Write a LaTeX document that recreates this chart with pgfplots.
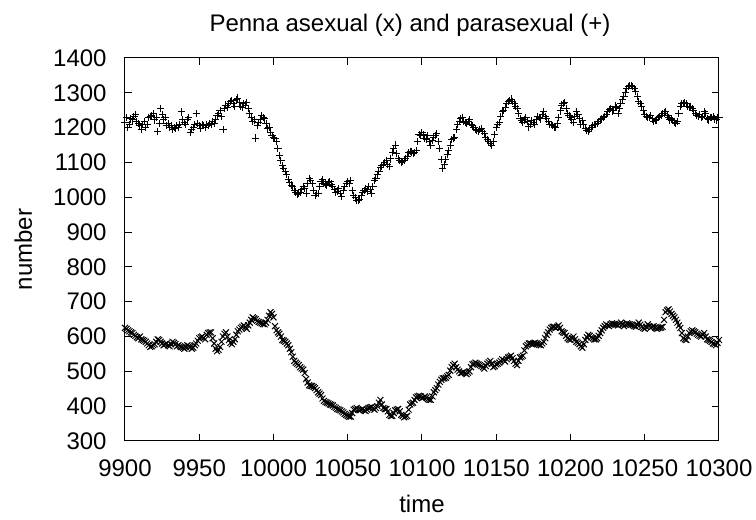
\documentclass[border=0pt]{standalone}
\usepackage{pgfplots}
\pgfplotsset{compat=1.18}
\usepackage{pgfplotstable}
\usepackage{fontspec}
\setmainfont{Liberation Sans}

\pgfplotstableread{
t v
9900 1215
9902 1200
9904 1225
9906 1232
9908 1218
9910 1205
9912 1210
9914 1200
9916 1228
9918 1235
9920 1222
9922 1190
9924 1255
9926 1222
9928 1205
9930 1200
9932 1195
9934 1198
9936 1200
9938 1245
9940 1215
9942 1222
9944 1185
9946 1200
9948 1240
9950 1205
9952 1210
9954 1200
9956 1205
9958 1208
9960 1212
9962 1235
9964 1250
9966 1195
9968 1265
9970 1270
9972 1278
9974 1262
9976 1285
9978 1260
9980 1268
9982 1272
9984 1240
9986 1218
9988 1170
9990 1215
9992 1235
9994 1225
9996 1198
9998 1185
10000 1172
10002 1160
10004 1120
10006 1090
10008 1075
10010 1050
10012 1035
10014 1020
10016 1008
10018 1015
10020 1030
10022 1012
10024 1055
10026 1040
10028 1005
10030 1010
10032 1045
10034 1040
10036 1035
10038 1045
10040 1030
10042 1015
10044 1025
10046 1002
10048 1030
10050 1045
10052 1048
10054 1005
10056 990
10058 995
10060 1015
10062 1025
10064 1030
10066 1010
10068 1048
10070 1065
10072 1085
10074 1095
10076 1105
10078 1088
10080 1130
10082 1150
10084 1112
10086 1100
10088 1105
10090 1118
10092 1132
10094 1125
10096 1135
10098 1180
10100 1185
10102 1170
10104 1178
10106 1148
10108 1172
10110 1182
10112 1140
10114 1082
10116 1108
10118 1135
10120 1165
10122 1172
10124 1210
10126 1225
10128 1218
10130 1212
10132 1222
10134 1205
10136 1195
10138 1190
10140 1198
10142 1182
10144 1165
10146 1155
10148 1160
10150 1200
10152 1215
10154 1245
10156 1258
10158 1275
10160 1282
10162 1268
10164 1255
10166 1225
10168 1215
10170 1230
10172 1202
10174 1220
10176 1210
10178 1232
10180 1225
10182 1245
10184 1225
10186 1210
10188 1205
10190 1200
10192 1228
10194 1265
10196 1272
10198 1240
10200 1230
10202 1215
10204 1245
10206 1225
10208 1220
10210 1198
10212 1190
10214 1200
10216 1210
10218 1212
10220 1222
10222 1230
10224 1238
10226 1252
10228 1248
10230 1262
10232 1240
10234 1270
10236 1290
10238 1312
10240 1320
10242 1318
10244 1305
10246 1275
10248 1262
10250 1238
10252 1228
10254 1235
10256 1218
10258 1222
10260 1232
10262 1240
10264 1245
10266 1228
10268 1225
10270 1215
10272 1218
10274 1262
10276 1270
10278 1268
10280 1258
10282 1255
10284 1240
10286 1232
10288 1228
10290 1245
10292 1225
10294 1230
10296 1232
10298 1222
10300 1228
9901 1228
9903 1210
9905 1222
9907 1238
9909 1212
9911 1195
9913 1218
9915 1208
9917 1232
9919 1240
9921 1228
9923 1212
9925 1238
9927 1230
9929 1212
9931 1205
9933 1200
9935 1205
9937 1210
9939 1222
9941 1208
9943 1230
9945 1195
9947 1208
9949 1212
9951 1198
9953 1205
9955 1208
9957 1212
9959 1218
9961 1222
9963 1240
9965 1232
9967 1255
9969 1258
9971 1275
9973 1268
9975 1280
9977 1272
9979 1258
9981 1265
9983 1255
9985 1230
9987 1222
9989 1205
9991 1222
9993 1228
9995 1212
9997 1200
9999 1178
10001 1168
10003 1140
10005 1105
10007 1082
10009 1065
10011 1042
10013 1030
10015 1015
10017 1010
10019 1022
10021 1025
10023 1040
10025 1048
10027 1020
10029 1010
10031 1030
10033 1050
10035 1038
10037 1042
10039 1038
10041 1022
10043 1018
10045 1010
10047 1020
10049 1040
10051 1040
10053 1020
10055 998
10057 992
10059 1005
10061 1020
10063 1018
10065 1022
10067 1030
10069 1055
10071 1075
10073 1090
10075 1100
10077 1095
10079 1110
10081 1140
10083 1125
10085 1105
10087 1102
10089 1112
10091 1128
10093 1130
10095 1128
10097 1160
10099 1178
10101 1180
10103 1165
10105 1160
10107 1162
10109 1178
10111 1160
10113 1108
10115 1095
10117 1122
10119 1150
10121 1170
10123 1195
10125 1218
10127 1230
10129 1215
10131 1218
10133 1210
10135 1200
10137 1192
10139 1195
10141 1190
10143 1172
10145 1160
10147 1150
10149 1180
10151 1210
10153 1232
10155 1250
10157 1268
10159 1278
10161 1275
10163 1262
10165 1240
10167 1220
10169 1222
10171 1218
10173 1210
10175 1215
10177 1222
10179 1230
10181 1238
10183 1232
10185 1218
10187 1208
10189 1202
10191 1212
10193 1248
10195 1270
10197 1255
10199 1235
10201 1222
10203 1232
10205 1238
10207 1210
10209 1208
10211 1192
10213 1195
10215 1205
10217 1210
10219 1218
10221 1225
10223 1232
10225 1245
10227 1255
10229 1250
10231 1258
10233 1255
10235 1280
10237 1302
10239 1318
10241 1322
10243 1312
10245 1290
10247 1270
10249 1250
10251 1232
10253 1230
10255 1225
10257 1220
10259 1228
10261 1236
10263 1242
10265 1235
10267 1222
10269 1220
10271 1212
10273 1240
10275 1268
10277 1272
10279 1262
10281 1260
10283 1248
10285 1235
10287 1238
10289 1232
10291 1240
10293 1222
10295 1228
10297 1225
10299 1230
}\parasexual

\pgfplotstableread{
t v
9900 625
9902 618
9904 612
9906 605
9908 598
9910 600
9912 590
9914 585
9916 575
9918 572
9920 578
9922 592
9924 585
9926 575
9928 580
9930 572
9932 585
9934 578
9936 575
9938 570
9940 565
9942 575
9944 570
9946 568
9948 580
9950 595
9952 600
9954 592
9956 610
9958 612
9960 580
9962 558
9964 570
9966 600
9968 612
9970 590
9972 578
9974 592
9976 615
9978 625
9980 632
9982 622
9984 640
9986 655
9988 650
9990 642
9992 638
9994 635
9996 648
9998 670
10000 655
10002 618
10004 608
10006 590
10008 585
10010 575
10012 555
10014 530
10016 522
10018 512
10020 505
10022 478
10024 460
10026 458
10028 452
10030 440
10032 432
10034 415
10036 410
10038 405
10040 402
10042 395
10044 390
10046 385
10048 378
10050 372
10052 370
10054 390
10056 395
10058 388
10060 392
10062 386
10064 395
10066 398
10068 390
10070 400
10072 418
10074 395
10076 392
10078 375
10080 372
10082 388
10084 392
10086 375
10088 368
10090 372
10092 405
10094 410
10096 425
10098 430
10100 423
10102 428
10104 420
10106 418
10108 440
10110 452
10112 470
10114 480
10116 482
10118 490
10120 512
10122 522
10124 505
10126 495
10128 498
10130 492
10132 500
10134 520
10136 525
10138 520
10140 515
10142 508
10144 522
10146 530
10148 512
10150 520
10152 525
10154 535
10156 528
10158 540
10160 545
10162 530
10164 518
10166 540
10168 545
10170 572
10172 580
10174 578
10176 582
10178 578
10180 575
10182 585
10184 605
10186 620
10188 628
10190 625
10192 632
10194 615
10196 610
10198 595
10200 590
10202 600
10204 585
10206 578
10208 568
10210 590
10212 605
10214 598
10216 592
10218 595
10220 610
10222 625
10224 635
10226 630
10228 638
10230 635
10232 632
10234 640
10236 630
10238 638
10240 635
10242 632
10244 628
10246 640
10248 628
10250 622
10252 635
10254 625
10256 630
10258 622
10260 625
10262 628
10264 670
10266 678
10268 665
10270 655
10272 640
10274 625
10276 595
10278 590
10280 610
10282 618
10284 612
10286 605
10288 600
10290 610
10292 592
10294 588
10296 580
10298 575
10300 590
9901 622
9903 615
9905 610
9907 602
9909 595
9911 592
9913 588
9915 580
9917 570
9919 575
9921 585
9923 590
9925 580
9927 578
9929 575
9931 578
9933 582
9935 572
9937 572
9939 568
9941 570
9943 572
9945 565
9947 575
9949 588
9951 598
9953 596
9955 605
9957 612
9959 595
9961 565
9963 562
9965 585
9967 608
9969 600
9971 582
9973 585
9975 605
9977 620
9979 628
9981 628
9983 632
9985 648
9987 652
9989 645
9991 640
9993 636
9995 640
9997 660
9999 665
10001 630
10003 612
10005 600
10007 588
10009 580
10011 565
10013 542
10015 525
10017 518
10019 508
10021 495
10023 468
10025 458
10027 455
10029 446
10031 436
10033 422
10035 412
10037 408
10039 404
10041 398
10043 392
10045 388
10047 382
10049 375
10051 370
10053 380
10055 392
10057 390
10059 390
10061 388
10063 390
10065 396
10067 394
10069 395
10071 410
10073 405
10075 392
10077 385
10079 372
10081 380
10083 390
10085 385
10087 372
10089 370
10091 390
10093 408
10095 418
10097 428
10099 428
10101 425
10103 425
10105 418
10107 428
10109 446
10111 462
10113 476
10115 480
10117 486
10119 502
10121 518
10123 512
10125 500
10127 496
10129 495
10131 496
10133 512
10135 522
10137 522
10139 518
10141 512
10143 515
10145 526
10147 522
10149 515
10151 522
10153 530
10155 532
10157 535
10159 542
10161 538
10163 522
10165 530
10167 542
10169 560
10171 576
10173 580
10175 580
10177 580
10179 576
10181 580
10183 595
10185 612
10187 625
10189 628
10191 628
10193 625
10195 612
10197 602
10199 592
10201 595
10203 592
10205 582
10207 572
10209 578
10211 598
10213 602
10215 595
10217 592
10219 602
10221 618
10223 630
10225 632
10227 635
10229 636
10231 634
10233 636
10235 635
10237 634
10239 636
10241 634
10243 630
10245 634
10247 634
10249 625
10251 628
10253 630
10255 628
10257 626
10259 624
10261 626
10263 648
10265 675
10267 672
10269 660
10271 648
10273 632
10275 610
10277 592
10279 600
10281 615
10283 615
10285 608
10287 602
10289 605
10291 600
10293 590
10295 584
10297 578
10299 582
}\asexual

\begin{document}
\fontsize{12}{14}\selectfont
\begin{tikzpicture}
\path[use as bounding box] (-62.5pt,-39.5pt) rectangle (315.5pt,220.5pt);
\begin{axis}[
  scale only axis, width=297pt, height=191.5pt,
  xmin=9900, xmax=10300, ymin=300, ymax=1400,
  xtick={9900,9950,...,10300}, ytick={300,400,...,1400},
  tick align=inside, major tick length=3.5pt,
  tick style={line width=0.5pt, black},
  axis line style={line width=0.5pt},
  scaled ticks=false,
  /pgf/number format/1000 sep={},
  /pgf/number format/assume math mode=true,
  xticklabel style={anchor=base, yshift=-18pt},
  yticklabel style={anchor=east, xshift=-5pt},
  title={Penna asexual (x) and parasexual (+)},
  every axis title/.style={at={(axis description cs:0.5,1)}, anchor=base, yshift=13pt, xshift=-6pt},
  xlabel={time},
  every axis x label/.style={at={(axis description cs:0.5,0)}, anchor=base, yshift=-36pt},
  ylabel={number},
  every axis y label/.style={at={([xshift=-46.5pt]axis description cs:0,0.5)}, anchor=base, rotate=90},
]
\addplot[only marks, mark=+, mark size=1.8pt, black, line width=0.5pt] table[x=t, y=v] {\parasexual};
\addplot[only marks, mark=x, mark size=2.1pt, black, line width=0.5pt] table[x=t, y=v] {\asexual};
\end{axis}
\end{tikzpicture}
\end{document}
